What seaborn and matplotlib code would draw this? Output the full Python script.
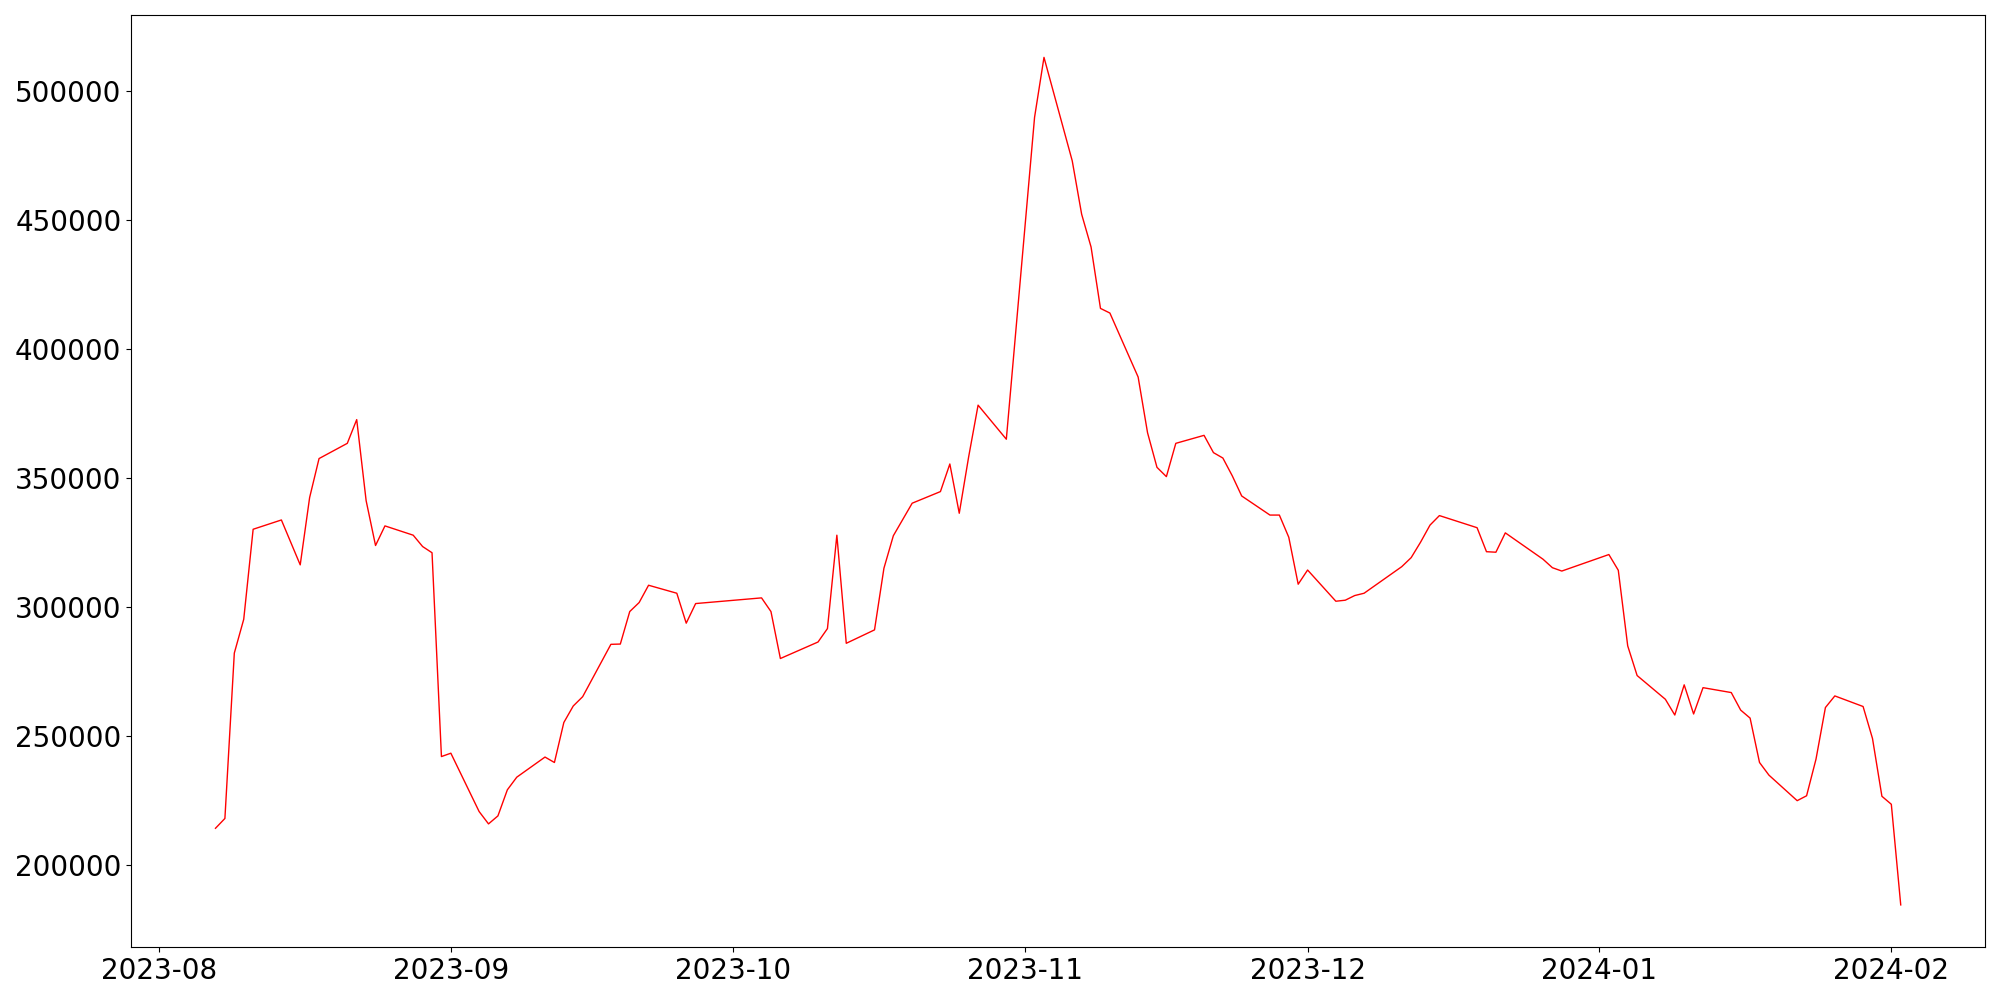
import pandas as pd
import matplotlib
matplotlib.use("Agg")
import matplotlib.pyplot as plt
import seaborn as sns

# ── data ────────────────────────────────────────────────
dates = [
    "2023-08-07", "2023-08-08", "2023-08-09", "2023-08-10", "2023-08-11",
    "2023-08-14", "2023-08-16", "2023-08-17", "2023-08-18",
    "2023-08-21", "2023-08-22", "2023-08-23", "2023-08-24", "2023-08-25",
    "2023-08-28", "2023-08-29", "2023-08-30", "2023-08-31", "2023-09-01",
    "2023-09-04", "2023-09-05", "2023-09-06", "2023-09-07", "2023-09-08",
    "2023-09-11", "2023-09-12", "2023-09-13", "2023-09-14", "2023-09-15",
    "2023-09-18", "2023-09-19", "2023-09-20", "2023-09-21", "2023-09-22",
    "2023-09-25", "2023-09-26", "2023-09-27",
    "2023-10-04", "2023-10-05", "2023-10-06",
    "2023-10-10", "2023-10-11", "2023-10-12", "2023-10-13",
    "2023-10-16", "2023-10-17", "2023-10-18", "2023-10-20",
    "2023-10-23", "2023-10-24", "2023-10-25", "2023-10-26", "2023-10-27",
    "2023-10-30", "2023-11-02", "2023-11-03",
    "2023-11-06", "2023-11-07", "2023-11-08", "2023-11-09", "2023-11-10",
    "2023-11-13", "2023-11-14", "2023-11-15", "2023-11-16", "2023-11-17",
    "2023-11-20", "2023-11-21", "2023-11-22", "2023-11-23", "2023-11-24",
    "2023-11-27", "2023-11-28", "2023-11-29", "2023-11-30", "2023-12-01",
    "2023-12-04", "2023-12-05", "2023-12-06", "2023-12-07",
    "2023-12-11", "2023-12-12", "2023-12-13", "2023-12-14", "2023-12-15",
    "2023-12-19", "2023-12-20", "2023-12-21", "2023-12-22",
    "2023-12-26", "2023-12-27", "2023-12-28",
    "2024-01-02", "2024-01-03", "2024-01-04", "2024-01-05",
    "2024-01-08", "2024-01-09", "2024-01-10", "2024-01-11", "2024-01-12",
    "2024-01-15", "2024-01-16", "2024-01-17", "2024-01-18", "2024-01-19",
    "2024-01-22", "2024-01-23", "2024-01-24", "2024-01-25", "2024-01-26",
    "2024-01-29", "2024-01-30", "2024-01-31", "2024-02-01", "2024-02-02",
]

values = [
    214100, 217900, 282000, 295100, 330000,
    333600, 316200, 342300, 357400,
    363300, 372500, 341100, 323700, 331300,
    327700, 323300, 320900, 241900, 243200,
    220600, 215800, 218900, 229000, 233900,
    241700, 239600, 255100, 261500, 265100,
    285400, 285500, 298100, 301600, 308300,
    305200, 293600, 301200,
    303400, 298100, 279900,
    286300, 291500, 327700, 285800,
    291000, 314900, 327500, 340100,
    344600, 355300, 336200, 358100, 378100,
    364900, 489700, 512900,
    472800, 452100, 439400, 415600, 413800,
    389000, 367400, 354000, 350400, 363300,
    366400, 359700, 357600, 350700, 342900,
    335500, 335500, 326900, 308700, 314200,
    302100, 302500, 304300, 305200,
    315500, 319000, 325000, 331600, 335300,
    330600, 321300, 321100, 328600,
    318400, 315100, 313800,
    320200, 314100, 284800, 273300,
    264100, 258000, 269700, 258400, 268600,
    266700, 259900, 256800, 239600, 234700,
    224800, 226700, 240900, 260900, 265400,
    261300, 248900, 226500, 223400, 184400,
]

df = pd.DataFrame({"date": pd.to_datetime(dates), "value": values})

# ── plot ────────────────────────────────────────────────
fig, ax = plt.subplots(figsize=(20, 10))
sns.lineplot(data=df, x="date", y="value", color="red", linewidth=1, ax=ax)

ax.set_xlabel("")
ax.set_ylabel("")
ax.tick_params(axis="both", labelsize=20)

fig.tight_layout()
fig.savefig("out.png", dpi=100)
plt.close(fig)
